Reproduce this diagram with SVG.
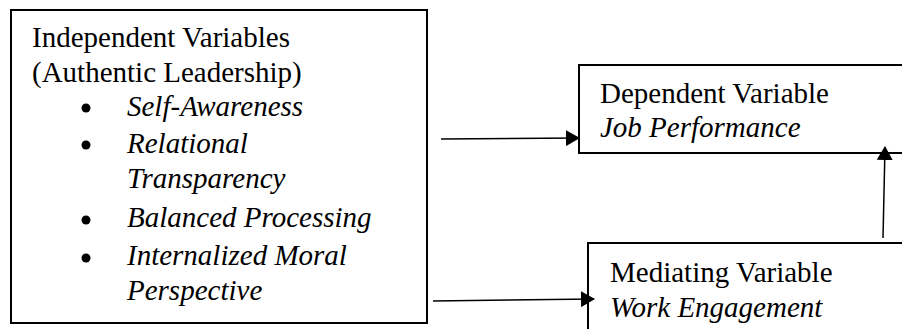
<svg xmlns="http://www.w3.org/2000/svg" width="902" height="329" viewBox="0 0 902 329">
<style>
.box{fill:#fff;stroke:#000;stroke-width:2}
.t{font-family:"Liberation Serif","Times New Roman",serif;font-size:29px;fill:#000}
.i{font-style:italic}
.c{stroke:#000;stroke-width:1.5;fill:none}
</style>
<defs>
<marker id="ah" markerWidth="14" markerHeight="16" refX="13" refY="8" orient="auto" markerUnits="userSpaceOnUse">
<path d="M0,0 L14,8 L0,16 Z" fill="#000"/>
</marker>
</defs>
<rect width="902" height="329" fill="#fff"/>
<g id="independent">
<rect class="box" x="11" y="10" width="416" height="313"/>
<text class="t" x="32" y="47">Independent Variables</text>
<text class="t" x="32" y="82">(Authentic Leadership)</text>
<circle cx="86" cy="108" r="4.5"/>
<circle cx="86" cy="145" r="4.5"/>
<circle cx="86" cy="220" r="4.5"/>
<circle cx="86" cy="258" r="4.5"/>
<text class="t i" x="127" y="116">Self-Awareness</text>
<text class="t i" x="127" y="153">Relational</text>
<text class="t i" x="127" y="188">Transparency</text>
<text class="t i" x="127" y="227">Balanced Processing</text>
<text class="t i" x="127" y="265">Internalized Moral</text>
<text class="t i" x="127" y="300">Perspective</text>
</g>
<g id="dependent">
<rect class="box" x="579" y="65" width="340" height="88"/>
<text class="t" x="600" y="103">Dependent Variable</text>
<text class="t i" x="600" y="137">Job Performance</text>
</g>
<g id="mediating">
<rect class="box" x="588" y="243" width="330" height="120"/>
<text class="t" x="610" y="282">Mediating Variable</text>
<text class="t i" x="610" y="317">Work Engagement</text>
</g>
<g id="connectors">
<line class="c" x1="441" y1="139" x2="579" y2="138" marker-end="url(#ah)"/>
<line class="c" x1="433" y1="301" x2="594" y2="299" marker-end="url(#ah)"/>
<line class="c" x1="883" y1="238" x2="885" y2="147" marker-end="url(#ah)"/>
</g>
</svg>
